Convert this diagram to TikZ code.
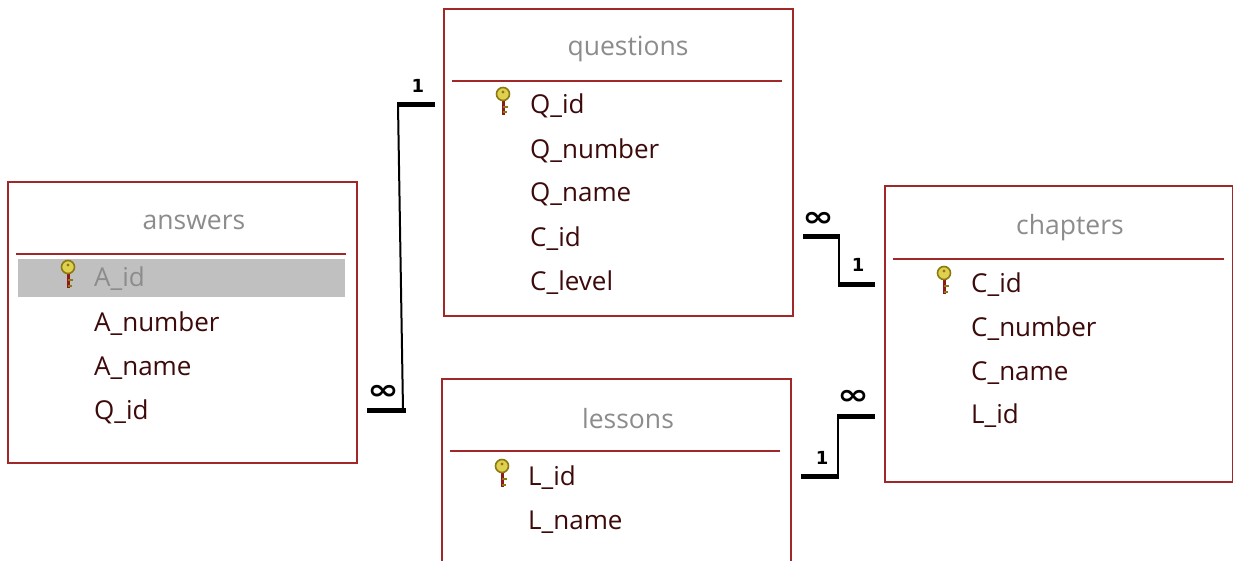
\documentclass[tikz,border=0pt]{standalone}
\usepackage{fontspec}
\setmainfont{Open Sans}
\newfontfamily\symfont{DejaVu Sans}
\definecolor{boxred}{HTML}{A02828}
\definecolor{titlegray}{HTML}{8C8C8C}
\definecolor{fldcol}{HTML}{3C0A0A}
\definecolor{hlgray}{HTML}{C0C0C0}
\definecolor{keyyel}{HTML}{E0D050}
\definecolor{keyol}{HTML}{8A7A10}
\definecolor{keyred}{HTML}{901818}
\newcommand\infsym{\scalebox{1.35}[1]{∞}}
\tikzset{
  tbl/.style={draw=boxred, line width=1.8pt, fill=white, anchor=north west, inner sep=0pt},
  divider/.style={boxred, line width=1.5pt},
  ttl/.style={text=titlegray, font=\fontsize{26.5}{30}\selectfont, inner sep=0pt, yshift=-3pt},
  fld/.style={anchor=mid west, text=fldcol, font=\fontsize{26}{30}\selectfont, inner sep=0pt, yshift=-7pt},
  hlfld/.style={fld, text=titlegray},
  relthick/.style={line width=5pt},
  relthin/.style={line width=2pt},
  cardinf/.style={font=\symfont\bfseries\fontsize{28}{28}\selectfont, inner sep=0pt},
  cardone/.style={font=\symfont\bfseries\fontsize{18}{18}\selectfont, inner sep=0pt},
  key/.pic={
    \draw[keyred, line width=3pt] (0,-5) -- (0,11);
    \draw[keyol, line width=2pt] (0,3) -- (4.5,3) (0,8.5) -- (4,8.5);
    \filldraw[fill=keyyel, draw=keyol, line width=1.6pt] (0,-10) circle (6.5);
    \fill[keyol] (0,-12) circle (1.6);
  }
}
\begin{document}
\begin{tikzpicture}[x=1pt,y=-1pt]
\useasboundingbox (0,0) rectangle (1233,561);
\clip (0,0) rectangle (1233,561);
\fill[white] (0,0) rectangle (1233,561);

% ---------- answers ----------
\node[tbl, minimum width=349pt, minimum height=281pt] (ans) at (7,181) {};
\node[ttl] (ansT) at (194,219) {answers};
\draw[divider] (16,254) -- (346,254);
\fill[hlgray] (18,259) rectangle (345,297);
\pic at (68,277) {key};
\node[hlfld] (ansA) at (94,277) {A\_id};
\node[fld] (ansN) at (94,322) {A\_number};
\node[fld] (ansM) at (94,366) {A\_name};
\node[fld] (ansQ) at (94,410) {Q\_id};

% ---------- questions ----------
\node[tbl, minimum width=349pt, minimum height=307pt] (que) at (443,8) {};
\node[ttl] (queT) at (628,46) {questions};
\draw[divider] (452,81) -- (782,81);
\pic at (503,104) {key};
\node[fld] (queQ) at (530,104) {Q\_id};
\node[fld] (queN) at (530,149) {Q\_number};
\node[fld] (queM) at (530,192) {Q\_name};
\node[fld] (queC) at (530,237) {C\_id};
\node[fld] (queL) at (530,281) {C\_level};

% ---------- chapters ----------
\node[tbl, minimum width=348pt, minimum height=296pt] (cha) at (884,185) {};
\node[ttl] (chaT) at (1070,225) {chapters};
\draw[divider] (893,259) -- (1224,259);
\pic at (944,283) {key};
\node[fld] (chaC) at (971,283) {C\_id};
\node[fld] (chaN) at (971,327) {C\_number};
\node[fld] (chaM) at (971,371) {C\_name};
\node[fld] (chaL) at (971,414) {L\_id};

% ---------- lessons ----------
\node[tbl, minimum width=349pt, minimum height=200pt] (les) at (441,378) {};
\node[ttl] (lesT) at (628,416) {lessons};
\draw[divider] (450,451) -- (780,451);
\pic at (502,476) {key};
\node[fld] (lesL) at (528,476) {L\_id};
\node[fld] (lesN) at (528,520) {L\_name};

% ---------- relationship: answers.Q_id -> questions.Q_id ----------
\coordinate (r1a) at (367,410);
\coordinate (r1b) at (403,410);
\coordinate (r1c) at (398,105);
\coordinate (r1d) at (435,105);
\draw[relthick] (r1a) -- ([xshift=2.5pt]r1b);
\draw[relthin] (r1b) -- (r1c);
\draw[relthick] ([xshift=-1pt]r1c) -- (r1d);
\node[cardinf] at (383,392) {\infsym};
\node[cardone] at (418,86) {1};

% ---------- relationship: questions.C_id -> chapters.C_id ----------
\coordinate (r2a) at (803,237);
\coordinate (r2b) at (839,237);
\coordinate (r2c) at (839,284);
\coordinate (r2d) at (875,284);
\draw[relthick] (r2a) -- ([xshift=1pt]r2b);
\draw[relthin] (r2b) -- (r2c);
\draw[relthick] ([xshift=-1pt]r2c) -- (r2d);
\node[cardinf] at (818,219) {\infsym};
\node[cardone] at (858,265) {1};

% ---------- relationship: lessons.L_id -> chapters.L_id ----------
\coordinate (r3a) at (801,476);
\coordinate (r3b) at (838,476);
\coordinate (r3c) at (838,416);
\coordinate (r3d) at (875,416);
\draw[relthick] (r3a) -- ([xshift=1pt]r3b);
\draw[relthin] (r3b) -- (r3c);
\draw[relthick] ([xshift=-1pt]r3c) -- (r3d);
\node[cardinf] at (853,397) {\infsym};
\node[cardone] at (822,458) {1};
\end{tikzpicture}
\end{document}
